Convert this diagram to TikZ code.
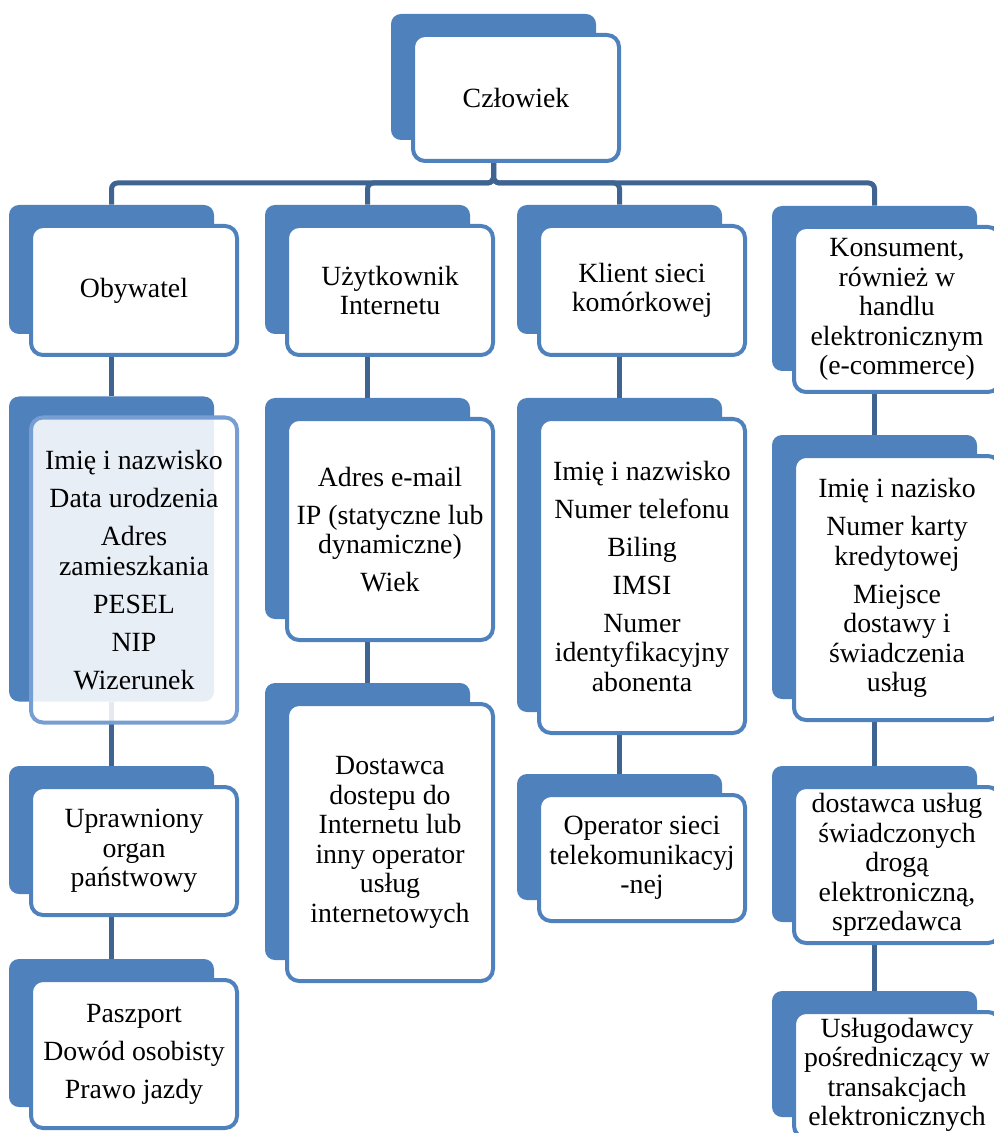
\documentclass[tikz,border=0pt]{standalone}
\usepackage{fontspec}
\setmainfont{Liberation Serif}
\usetikzlibrary{fit}
\pgfdeclarelayer{lines}
\pgfdeclarelayer{back}
\pgfsetlayers{lines,back,main}
\definecolor{cardblue}{RGB}{79,129,189}
\definecolor{linkblue}{RGB}{64,100,145}
\definecolor{paleedge}{RGB}{118,158,210}
\tikzset{
  card/.style={draw=cardblue, line width=2pt, rounded corners=6pt, fill=white,
    align=center, minimum width=103pt, inner sep=2pt,
    font=\fontsize{13.9}{14.75}\selectfont},
  backcard/.style={fill=cardblue, rounded corners=5pt, inner sep=0pt},
  link/.style={draw=linkblue, line width=2.5pt},
}
\begin{document}
\begin{tikzpicture}[x=0.5pt, y=-0.5pt]
	\useasboundingbox (0,0) rectangle (993,1133);
	% top
	\node[card, minimum height=63pt] (czl) at (516,98) {Człowiek};
	% first row
	\node[card, minimum height=64.5pt] (oby) at (134,290.5) {Obywatel};
	\node[card, minimum height=64.5pt] (uzy) at (390,290.5) {Użytkownik\\Internetu};
	\node[card, minimum height=64.5pt] (kli) at (642,290.5) {Klient sieci\\komórkowej};
	\node[card, minimum height=82.5pt] (kon) at (897,309.5) {Konsument,\\również w\\handlu\\elektronicznym\\(e-commerce)};
	% data
	\node[card, minimum height=152.5pt, draw=paleedge, fill opacity=0.87, text opacity=1] (obyd) at (134,570)
		{Imię i nazwisko\\[4.25pt]Data urodzenia\\[4.25pt]Adres\\zamieszkania\\[4.25pt]PESEL\\[4.25pt]NIP\\[4.25pt]Wizerunek};
	\node[card, minimum height=110.5pt] (uzyd) at (390,529.5)
		{Adres e-mail\\[4.25pt]IP (statyczne lub\\dynamiczne)\\[4.25pt]Wiek};
	\node[card, minimum height=157pt] (klid) at (642,576)
		{Imię i nazwisko\\[4.25pt]Numer telefonu\\[4.25pt]Biling\\[4.25pt]IMSI\\[4.25pt]Numer\\identyfikacyjny\\abonenta};
	\node[card, minimum height=132pt] (kond) at (897,588)
		{Imię i nazisko\\[4.25pt]Numer karty\\kredytowej\\[4.25pt]Miejsce\\dostawy i\\świadczenia\\usług};
	% third row
	\node[card, minimum height=64pt] (upr) at (134,851) {Uprawniony\\organ\\państwowy};
	\node[card, minimum height=138.5pt] (dost) at (390,842.5) {Dostawca\\dostepu do\\Internetu lub\\inny operator\\usług\\internetowych};
	\node[card, minimum height=63pt] (oper) at (642,858) {Operator sieci\\telekomunikacyj\\-nej};
	\node[card, minimum height=78pt] (dusl) at (897,865) {dostawca usług\\świadczonych\\drogą\\elektroniczną,\\sprzedawca};
	% fourth row
	\node[card, minimum height=74pt] (pasz) at (134,1054) {Paszport\\[4.25pt]Dowód osobisty\\[4.25pt]Prawo jazdy};
	\node[card, minimum height=63pt] (uslp) at (897,1075) {Usługodawcy\\pośredniczący w\\transakcjach\\elektronicznych};
	% blue cards behind
	\begin{pgfonlayer}{back}
	\foreach \c in {czl,oby,uzy,kli,kon,obyd,uzyd,klid,kond,upr,dost,oper,dusl,pasz,uslp}
		\node[backcard, fit={([shift={(-20,-19)}]\c.north west) ([shift={(-25,-23)}]\c.south east)}] (\c-b) {};
	\end{pgfonlayer}
	% connectors
	\begin{pgfonlayer}{lines}
	\coordinate (bar) at (492,183);
	\foreach \c in {oby,uzy,kli,kon}
		\draw[link, rounded corners=3pt] (czl-b.south) -- (czl-b.south |- bar) -| (\c-b.north);
	\draw[link] (oby-b) -- (obyd-b) -- (upr-b) -- (pasz-b);
	\draw[link] (uzy-b) -- (uzyd-b) -- (dost-b);
	\draw[link] (kli-b) -- (klid-b) -- (oper-b);
	\draw[link] (kon-b) -- (kond-b) -- (dusl-b) -- (uslp-b);
	\end{pgfonlayer}
\end{tikzpicture}
\end{document}
